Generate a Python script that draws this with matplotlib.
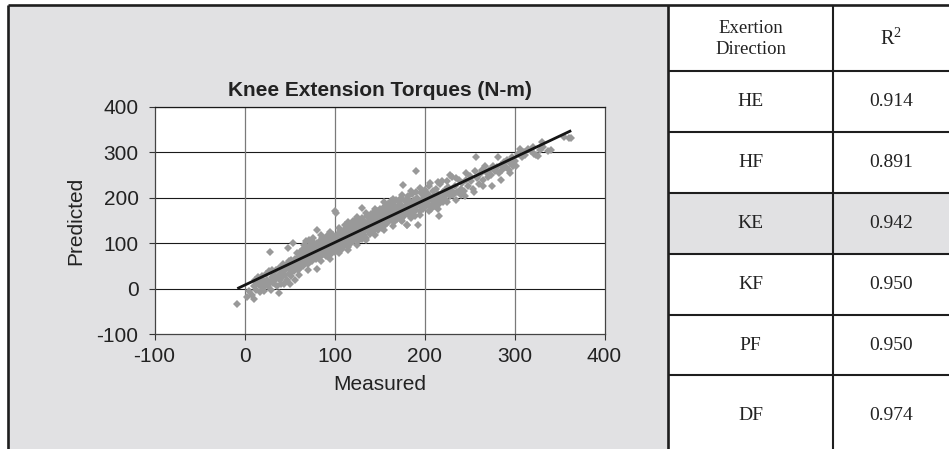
import matplotlib
matplotlib.use('Agg')
import matplotlib.pyplot as plt
from matplotlib.patches import Rectangle

plt.rcParams['font.family'] = ['Liberation Sans', 'DejaVu Sans']
plt.rcParams['axes.unicode_minus'] = False
plt.rcParams['mathtext.fontset'] = 'custom'
plt.rcParams['mathtext.rm'] = 'Liberation Serif'

# Measured vs predicted knee extension torques (N-m)
measured = [
    -8, 3, 5, 8, 10, 10, 12, 13, 14, 15, 16, 17, 18, 19, 20, 21, 22, 23, 24, 25,
    26, 27, 28, 28, 29, 30, 31, 32, 33, 34, 35, 36, 37, 38, 38, 39, 40, 40,
    41, 42, 43, 44, 44, 45, 46, 47, 48, 48, 49, 50, 51, 52, 52, 53, 54, 54,
    55, 56, 56, 57, 58, 59, 60, 60,
    61, 62, 62, 63, 64, 65, 65, 66, 67, 68, 68, 69, 70, 70, 71, 72, 72, 73,
    74, 74, 75, 76, 76, 77, 78, 78, 79, 80, 80, 80, 81, 81, 82, 83, 84, 84,
    85, 86, 86, 87, 88, 88, 89, 90, 90, 91, 92, 92, 93, 94, 94, 95, 96, 96,
    97, 98, 98, 99, 100, 100,
    101, 102, 101, 102, 103, 104, 104, 105, 106, 106, 107, 108, 108, 109, 110,
    110, 111, 112, 112, 113, 114, 114, 115, 116, 116, 117, 118, 118, 119, 120,
    120, 121, 122, 122, 123, 124, 124, 125, 126, 126, 127, 128, 128, 129, 130,
    130, 131, 131, 132, 133, 133, 134, 135, 135, 136, 137, 138, 138, 139, 140,
    140, 141, 142, 142, 143, 144, 144, 145, 146, 146, 147, 148, 148, 149, 150,
    150,
    151, 152, 152, 153, 154, 154, 155, 156, 156, 157, 158, 158, 159, 160, 160,
    161, 162, 162, 163, 164, 164, 165, 166, 166, 167, 168, 168, 169, 170, 170,
    171, 172, 172, 173, 174, 174, 175, 176, 176, 177, 178, 178, 179, 180, 180,
    180, 181, 181, 182, 183, 183, 184, 185, 186, 186, 187, 188, 188, 189, 190,
    190, 191, 191, 192, 193, 193, 194, 195, 196, 196, 197, 198, 199, 200, 200,
    201, 202, 203, 204, 205, 206, 206, 207, 208, 209, 210, 211, 212, 213, 214,
    215, 216, 216, 217, 218, 219, 220, 221, 222, 223, 224, 225, 226, 228, 228,
    230, 230, 232, 234, 236, 238, 240, 240,
    242, 244, 246, 246, 248, 250, 252, 254, 256, 257, 258, 260, 262, 264, 265,
    267, 268, 270, 272, 274, 275, 276, 278, 280, 282, 283, 285, 286, 288, 290,
    292, 294, 295, 297, 298, 300,
    302, 304, 306, 308, 310, 312, 315, 318, 320, 322, 324, 326, 328, 330, 332,
    337, 340, 355, 361, 363,
    # outer edge of the cloud
    58, 66, 75, 85, 95, 105, 115, 125, 135, 145, 155, 165, 175, 185, 195,
    205, 215, 225, 235,
    50, 60, 70, 85, 95, 105, 115, 125, 135, 145, 155, 165, 175, 185, 195,
    205, 215, 225, 235, 245, 255, 265, 285, 295,
]
predicted = [
    -35, -18, -5, -15, -22, 5, 20, -3, 12, 25, 8, -8, 15, 28, 2, 18, -5, 10, 32, 20,
    6, 38, 81, 14, -2, 25, 40, 12, 30, 18, 42, 5, 28, -10, 45, 20, 35, 10,
    48, 25, 55, 11, 38, 30, 52, 20, 90, 45, 60, 35, 50, 28, 62, 42, 101, 55,
    38, 20, 65, 48, 58, 40, 70, 52,
    62, 45, 80, 58, 72, 50, 88, 66, 58, 78, 104, 62, 92, 70, 55, 84, 108, 66,
    76, 98, 60, 88, 112, 72, 95, 82, 66, 44, 100, 86, 130, 74, 92, 80, 104, 70,
    96, 84, 112, 76, 100, 90, 82, 108, 72, 94, 86, 116, 100, 80, 92, 110, 88, 76,
    98, 118, 84, 94, 104, 80,
    172, 167, 90, 112, 98, 120, 84, 106, 94, 126, 110, 88, 118, 102, 130,
    96, 112, 140, 100, 120, 106, 132, 92, 116, 142, 108, 124, 100, 136, 112,
    148, 104, 128, 118, 140, 110, 152, 122, 134, 104, 146, 116, 128, 140, 110,
    156, 178, 124, 136, 118, 150, 130, 144, 112, 160, 126, 138, 150, 120, 164,
    132, 146, 126, 158, 140, 130, 168, 150, 136, 160, 144, 128, 170, 152, 140,
    162,
    176, 146, 158, 134, 168, 150, 180, 140, 162, 154, 172, 144, 186, 156, 166,
    148, 178, 160, 192, 152, 170, 160, 184, 146, 174, 164, 196, 154, 180, 168,
    158, 190, 174, 164, 200, 152, 182, 229, 170, 160, 192, 176, 166, 140, 198,
    184, 141, 172, 204, 180, 162, 192, 174, 208, 186, 168, 196, 180, 160, 212,
    188, 260, 174, 200, 141, 184, 192, 170, 210, 182, 196, 176, 204, 188, 218,
    180, 200, 210, 192, 184, 233, 204, 176, 196, 214, 188, 204, 182, 220, 196,
    208, 161, 186, 230, 200, 238, 212, 190, 204, 218, 196, 210, 224, 251, 204,
    245, 216, 206, 226, 212, 240, 220, 206,
    232, 214, 255, 240, 226, 248, 236, 220, 258, 289, 244, 230, 252, 262, 240,
    269, 256, 246, 262, 250, 225, 270, 258, 268, 289, 254, 272, 262, 278, 268,
    284, 262, 276, 290, 270, 282,
    269, 296, 308, 290, 300, 294, 308, 302, 312, 296, 295, 291, 306, 322, 312,
    304, 306, 335, 332, 332,
    78, 96, 104, 118, 124, 134, 146, 158, 166, 176, 190, 198, 206, 214, 222,
    226, 234, 236, 244,
    10, 30, 42, 60, 66, 78, 86, 96, 106, 118, 128, 138, 148, 156, 162,
    170, 176, 190, 196, 204, 212, 226, 240, 254,
]

# fitted line as drawn in the chart
trend_x = [-8, 363]
trend_slope = 0.938
trend_intercept = 7.5

axis_ticks = [-100, 0, 100, 200, 300, 400]

directions = ['HE', 'HF', 'KE', 'KF', 'PF', 'DF']
r_squared = ['0.914', '0.891', '0.942', '0.950', '0.950', '0.974']
highlight = 'KE'

W, H = 949, 449
fig = plt.figure(figsize=(W / 100, H / 100), dpi=100)
fig.patch.set_facecolor('white')

# background layer in pixel coordinates
bg = fig.add_axes([0, 0, 1, 1], zorder=0)
bg.set_xlim(0, W)
bg.set_ylim(H, 0)
bg.axis('off')

panel_gray = '#e1e1e3'
line_col = '#1e1e1e'
bg.add_patch(Rectangle((8, 5), 660, 460, facecolor=panel_gray, edgecolor='none'))

# table geometry
tab_left, tab_mid, tab_right = 668, 833, W + 5
row_edges = [5, 71, 132, 193, 254, 315, 375, 457]

k = directions.index(highlight)
bg.add_patch(Rectangle((tab_left, row_edges[k + 1]), tab_right - tab_left,
                       row_edges[k + 2] - row_edges[k + 1],
                       facecolor=panel_gray, edgecolor='none'))

# outer frame and table lines
bg.plot([8, tab_right], [5, 5], color=line_col, lw=1.9, solid_capstyle='butt')
bg.plot([8, 8], [5, H + 5], color=line_col, lw=1.9, solid_capstyle='butt')
bg.plot([tab_left, tab_left], [5, H + 5], color=line_col, lw=1.9, solid_capstyle='butt')
bg.plot([tab_mid, tab_mid], [5, H + 5], color=line_col, lw=1.5, solid_capstyle='butt')
for yy in row_edges[1:-1]:
    bg.plot([tab_left, tab_right], [yy, yy], color=line_col, lw=1.5, solid_capstyle='butt')

serif = ['Liberation Serif', 'DejaVu Serif']
c1 = (tab_left + tab_mid) / 2
c2 = (tab_mid + W) / 2
bg.text(c1, 39, 'Exertion\nDirection', ha='center', va='center', fontsize=13.5,
        family=serif, color='#222222', linespacing=1.3)
bg.text(c2, 38, r'$\mathrm{R}^{2}$', ha='center', va='center', fontsize=14.5,
        color='#222222')
for i, (d, r) in enumerate(zip(directions, r_squared)):
    yc = (row_edges[i + 1] + row_edges[i + 2]) / 2
    if i == len(directions) - 1:
        yc = 416
    bg.text(c1, yc, d, ha='center', va='center', fontsize=14, family=serif, color='#222222')
    bg.text(c2, yc, r, ha='center', va='center', fontsize=14, family=serif, color='#222222')

# scatter chart
ax = fig.add_axes([154.5 / W, 1 - 334 / H, 450 / W, 227 / H], zorder=2)
ax.set_facecolor('white')
ax.set_xlim(-100, 400)
ax.set_ylim(-100, 400)
ax.set_xticks(axis_ticks)
ax.set_yticks(axis_ticks)

for t in axis_ticks[1:]:
    ax.axhline(t, color='#1a1a1a', lw=0.8, zorder=1)
for t in axis_ticks[1:-1]:
    ax.axvline(t, color='#7a7a7a', lw=0.9, zorder=1)

ax.plot(measured, predicted, linestyle='none', marker='D', markersize=4.2,
        markerfacecolor='#999999', markeredgewidth=0, zorder=3)

trend_y = [trend_slope * x + trend_intercept for x in trend_x]
ax.plot(trend_x, trend_y, color='#151515', lw=2.0, zorder=4, solid_capstyle='butt')

for side in ['left', 'right', 'bottom', 'top']:
    ax.spines[side].set_color('#444444')
    ax.spines[side].set_linewidth(0.9)
ax.spines['top'].set_color('#1a1a1a')

ax.tick_params(axis='both', direction='out', length=4.5, width=0.8, color='#333333',
               labelsize=15, labelcolor='#222222')
ax.tick_params(axis='y', pad=7)
ax.tick_params(axis='x', pad=5)

ax.set_title('Knee Extension Torques (N-m)', fontsize=15, fontweight='bold',
             color='#222222', pad=8)
ax.set_xlabel('Measured', fontsize=15, color='#222222', labelpad=6)
ax.set_ylabel('Predicted', fontsize=15, color='#222222', labelpad=8)

fig.savefig('out.png', dpi=100)
